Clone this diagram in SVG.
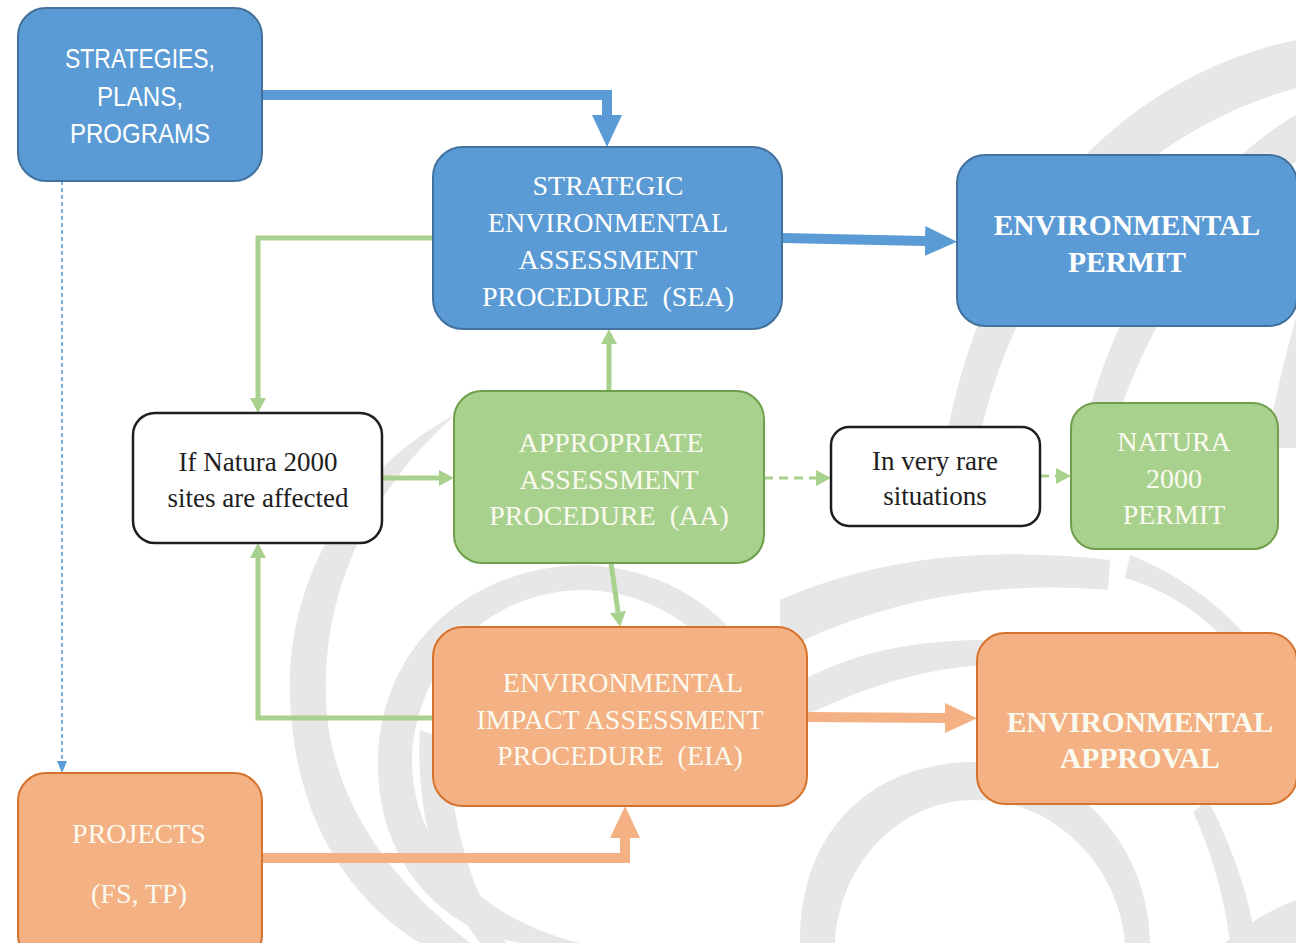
<svg xmlns="http://www.w3.org/2000/svg" width="1296" height="943" viewBox="0 0 1296 943">
<style>
.bg{fill:#e7e7e7}
.blue{fill:#5b9bd5;stroke:#41719c;stroke-width:2}
.green{fill:#a9d18e;stroke:#6f9f4b;stroke-width:2}
.orange{fill:#f4b183;stroke:#d5722c;stroke-width:2}
.white{fill:#ffffff;stroke:#1e1e1e;stroke-width:2.5}
.sans{font-family:"Liberation Sans",Arial,sans-serif;font-size:28px;fill:#ffffff;text-anchor:middle}
.serif{font-family:"Liberation Serif","Times New Roman",serif;font-size:28px;fill:#ffffff;text-anchor:middle}
.pale{fill:#fbfaf0}
.bold{font-weight:bold;font-size:29.5px}
.dark{font-family:"Liberation Serif","Times New Roman",serif;font-size:27px;fill:#1e1e1e;text-anchor:middle}
.cb{fill:none;stroke:#5b9bd5;stroke-width:10}
.co{fill:none;stroke:#f4b183;stroke-width:10}
.cg{fill:none;stroke:#a9d18e;stroke-width:5}
.dash{stroke-dasharray:9 6;stroke-width:3}
.dot{fill:none;stroke:#5b9bd5;stroke-width:1.6;stroke-dasharray:4 3}
</style>
<defs>
<marker id="mBlue" markerUnits="userSpaceOnUse" markerWidth="34" markerHeight="32" refX="0" refY="16" orient="auto" viewBox="0 0 34 32"><path d="M0,1 L32,16 L0,31 Z" fill="#5b9bd5"/></marker>
<marker id="mOrange" markerUnits="userSpaceOnUse" markerWidth="34" markerHeight="32" refX="0" refY="16" orient="auto" viewBox="0 0 34 32"><path d="M0,1 L32,16 L0,31 Z" fill="#f4b183"/></marker>
<marker id="mGreen" markerUnits="userSpaceOnUse" markerWidth="16" markerHeight="18" refX="0" refY="9" orient="auto" viewBox="0 0 16 18"><path d="M0,1 L15,9 L0,17 Z" fill="#a9d18e"/></marker>
<marker id="mBlueS" markerUnits="userSpaceOnUse" markerWidth="13" markerHeight="12" refX="0" refY="6" orient="auto" viewBox="0 0 13 12"><path d="M0,1 L12,6 L0,11 Z" fill="#5b9bd5"/></marker>
</defs>
<rect x="0" y="0" width="1296" height="943" fill="#ffffff"/>
<g id="background">
<path class="bg" d="M1296,40 C1150,70 990,190 945,445 L978,445 C1015,265 1130,135 1296,88 Z"/>
<path class="bg" d="M1296,115 C1200,170 1110,300 1080,450 L1108,450 C1142,322 1222,212 1296,162 Z"/>
<path class="bg" d="M1296,318 C1284,360 1274,402 1266,448 L1296,448 Z"/>
<path class="bg" d="M780,600 C870,560 980,545 1110,560 L1108,590 C990,580 880,600 780,652 Z"/>
<path class="bg" d="M1130,555 C1180,575 1220,605 1250,640 L1225,640 C1200,612 1165,590 1125,578 Z"/>
<path class="bg" d="M786,690 C850,650 920,640 985,640 L985,665 C900,670 840,700 790,722 Z"/>
<path class="bg" d="M800,943 C800,822 880,762 975,762 C1080,762 1150,852 1150,943 L1125,943 C1120,872 1060,800 975,800 C900,800 840,862 835,943 Z"/>
<path class="bg" d="M1208,800 C1234,850 1250,900 1256,943 L1230,943 C1225,900 1212,852 1193,812 Z"/>
<path class="bg" d="M1296,900 C1270,910 1245,925 1225,943 L1296,943 Z"/>
<path class="bg" d="M455,415 C350,470 285,580 290,700 C295,820 350,900 420,943 L470,943 C390,880 330,800 326,700 C322,590 370,490 455,415 Z"/>
<path class="bg" d="M742,642 C700,590 640,565 580,565 C470,568 380,645 378,760 C376,860 440,930 520,943 L580,943 C482,920 412,850 412,760 C415,662 490,592 580,590 C632,590 682,612 714,652 Z"/>
<path class="bg" d="M420,730 C415,820 440,890 480,943 L506,943 C470,890 450,820 448,740 Z"/>
</g>
<g id="connectors">
<polyline class="cb" points="262,95 607,95 607,115" marker-end="url(#mBlue)"/>
<line class="cb" x1="782" y1="238" x2="925" y2="241" stroke-width="8" marker-end="url(#mBlue)"/>
<polyline class="dot" points="62,181 62,761" marker-end="url(#mBlueS)"/>
<polyline class="cg" points="433,238 258,238 258,398" marker-end="url(#mGreen)"/>
<polyline class="cg" points="433,718 258,718 258,558" marker-end="url(#mGreen)"/>
<line class="cg" x1="382" y1="478" x2="439" y2="478" marker-end="url(#mGreen)"/>
<line class="cg" x1="609" y1="391" x2="609" y2="344" marker-end="url(#mGreen)"/>
<line class="cg" x1="611" y1="563" x2="618" y2="612" marker-end="url(#mGreen)"/>
<line class="cg dash" x1="764" y1="478" x2="816" y2="478" marker-end="url(#mGreen)"/>
<line class="cg dash" x1="1040" y1="476" x2="1056" y2="476" marker-end="url(#mGreen)"/>
<line class="co" x1="807" y1="717" x2="945" y2="718" marker-end="url(#mOrange)"/>
<polyline class="co" points="262,858 625,858 625,838" marker-end="url(#mOrange)"/>
</g>
<g id="strategies">
<rect class="blue" x="18" y="8" width="244" height="173" rx="28"/>
<text class="sans" x="140" y="68" textLength="150" lengthAdjust="spacingAndGlyphs">STRATEGIES,</text>
<text class="sans" x="140" y="106" textLength="86" lengthAdjust="spacingAndGlyphs">PLANS,</text>
<text class="sans" x="140" y="143" textLength="140" lengthAdjust="spacingAndGlyphs">PROGRAMS</text>
</g>
<g id="sea">
<rect class="blue" x="433" y="147" width="349" height="182" rx="30"/>
<text class="serif" x="608" y="195">STRATEGIC</text>
<text class="serif" x="608" y="232">ENVIRONMENTAL</text>
<text class="serif" x="608" y="269">ASSESSMENT</text>
<text class="serif" x="608" y="306" xml:space="preserve">PROCEDURE  (SEA)</text>
</g>
<g id="env-permit">
<rect class="blue" x="957" y="155" width="340" height="171" rx="28"/>
<text class="serif bold" x="1127" y="235">ENVIRONMENTAL</text>
<text class="serif bold" x="1127" y="272">PERMIT</text>
</g>
<g id="if-natura">
<rect class="white" x="133" y="413" width="249" height="130" rx="22"/>
<text class="dark" x="258" y="471">If Natura 2000</text>
<text class="dark" x="258" y="507">sites are affected</text>
</g>
<g id="aa">
<rect class="green" x="454" y="391" width="310" height="172" rx="28"/>
<text class="serif pale" x="611" y="452">APPROPRIATE</text>
<text class="serif pale" x="609" y="489">ASSESSMENT</text>
<text class="serif pale" x="609" y="525" xml:space="preserve">PROCEDURE  (AA)</text>
</g>
<g id="rare">
<rect class="white" x="831" y="427" width="209" height="99" rx="18"/>
<text class="dark" x="935" y="470">In very rare</text>
<text class="dark" x="935" y="505">situations</text>
</g>
<g id="natura-permit">
<rect class="green" x="1071" y="403" width="207" height="146" rx="25"/>
<text class="serif pale" x="1174" y="451">NATURA</text>
<text class="serif pale" x="1174" y="488">2000</text>
<text class="serif pale" x="1174" y="524">PERMIT</text>
</g>
<g id="eia">
<rect class="orange" x="433" y="627" width="374" height="179" rx="30"/>
<text class="serif pale" x="623" y="692">ENVIRONMENTAL</text>
<text class="serif pale" x="620" y="729">IMPACT ASSESSMENT</text>
<text class="serif pale" x="620" y="765" xml:space="preserve">PROCEDURE  (EIA)</text>
</g>
<g id="env-approval">
<rect class="orange" x="977" y="633" width="320" height="171" rx="28"/>
<text class="serif bold pale" x="1140" y="732">ENVIRONMENTAL</text>
<text class="serif bold pale" x="1140" y="768">APPROVAL</text>
</g>
<g id="projects">
<rect class="orange" x="18" y="773" width="244" height="190" rx="28"/>
<text class="serif pale" x="139" y="843">PROJECTS</text>
<text class="serif pale" x="139" y="903">(FS, TP)</text>
</g>
</svg>
